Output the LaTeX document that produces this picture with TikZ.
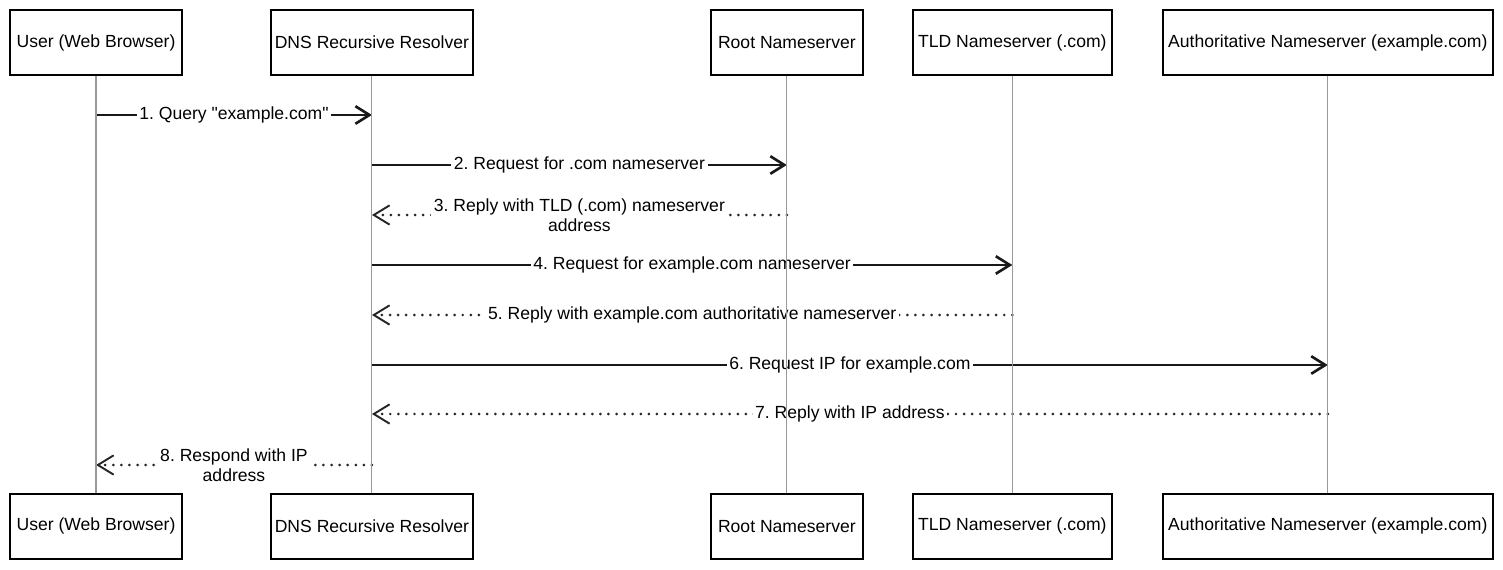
\documentclass[tikz,border=0pt]{standalone}
\usepackage{fontspec}
\setmainfont{Liberation Sans}[Ligatures=TeXOff]
\usetikzlibrary{arrows.meta, positioning}
\frenchspacing

\begin{document}
\begin{tikzpicture}[x=0.02cm, y=-0.02cm, on grid,
	actor/.style={draw, line width=1.1pt, fill=white, minimum height=1.3cm, inner sep=2pt},
	life/.style={draw=black!40, line width=0.6pt},
	call/.style={draw=black!90, line width=1.5pt, -{Straight Barb[length=8pt,width=10pt]}},
	reply/.style={draw=black!85, line width=1.7pt, dash pattern=on 0pt off 4.6pt, line cap=round,
		-{Straight Barb[length=9pt,width=11pt,line width=1.1pt]}},
	lbl/.style={fill=white, inner sep=1.5pt, align=center, font=\fontsize{10}{11.4}\selectfont}]
		\useasboundingbox (0,0) rectangle (1503,570);
		\node[actor, minimum width=3.44cm] (user) at (96,42.5) {User (Web Browser)};
		\node[actor, minimum width=4.04cm] (dns) [right=5.52cm of user] {DNS Recursive Resolver};
		\node[actor, minimum width=3.04cm] (root) [right=8.3cm of dns] {Root Nameserver};
		\node[actor, minimum width=3.98cm] (tld) [right=4.51cm of root] {TLD Nameserver (.com)};
		\node[actor, minimum width=6.6cm] (auth) [right=6.31cm of tld] {Authoritative Nameserver (example.com)};
		\node[actor, minimum width=3.44cm] (userB) [below=9.68cm of user] {User (Web Browser)};
		\node[actor, minimum width=4.04cm] (dnsB) [below=9.68cm of dns] {DNS Recursive Resolver};
		\node[actor, minimum width=3.04cm] (rootB) [below=9.68cm of root] {Root Nameserver};
		\node[actor, minimum width=3.98cm] (tldB) [below=9.68cm of tld] {TLD Nameserver (.com)};
		\node[actor, minimum width=6.6cm] (authB) [below=9.68cm of auth] {Authoritative Nameserver (example.com)};
		% messages
		\draw[call] (user |- 0,115) -- node[lbl] {1. Query "example.com"} (dns |- 0,115);
		\draw[call] (dns |- 0,165) -- node[lbl] {2. Request for .com nameserver} (root |- 0,165);
		\draw[reply] (root |- 0,215) -- node[lbl] {3. Reply with TLD (.com) nameserver\\address} (dns |- 0,215);
		\draw[call] (dns |- 0,265) -- node[lbl] {4. Request for example.com nameserver} (tld |- 0,265);
		\draw[reply] (tld |- 0,315) -- node[lbl] {5. Reply with example.com authoritative nameserver} (dns |- 0,315);
		\draw[call] (dns |- 0,365) -- node[lbl] {6. Request IP for example.com} (auth |- 0,365);
		\draw[reply] (auth |- 0,414) -- node[lbl] {7. Reply with IP address} (dns |- 0,414);
		\draw[reply] (dns |- 0,465) -- node[lbl] {8. Respond with IP\\address} (user |- 0,465);
		% lifelines
		\draw[life] (user.south) -- (userB.north);
		\draw[life] (dns.south) -- (dnsB.north);
		\draw[life] (root.south) -- (rootB.north);
		\draw[life] (tld.south) -- (tldB.north);
		\draw[life] (auth.south) -- (authB.north);
\end{tikzpicture}
\end{document}
